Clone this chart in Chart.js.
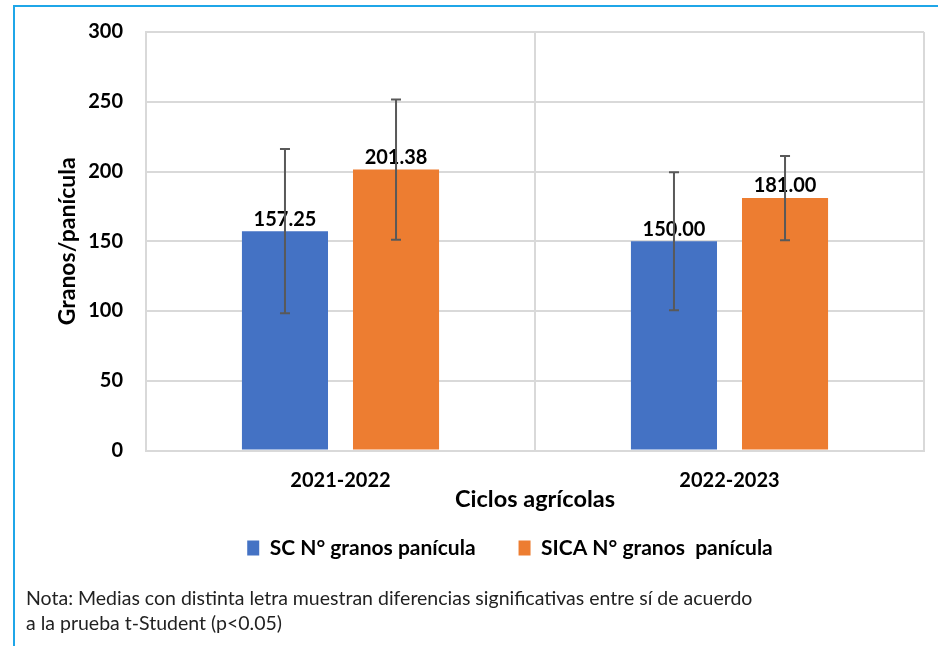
<!DOCTYPE html>
<html>
<head>
<meta charset="utf-8">
<script src="https://cdn.jsdelivr.net/npm/chart.js@4.4.0/dist/chart.umd.min.js"></script>
<style>
    html, body { margin: 0; padding: 0; background: #fff; overflow: hidden; }
    #wrap { position: relative; width: 938px; height: 646px; }
    #frame { position: absolute; left: 13px; top: 5px; right: 0; bottom: 0;
             border-left: 2px solid #1fa6e8; border-top: 2px solid #1fa6e8; }
    #box { position: absolute; left: 0; top: 0; width: 938px; height: 590px; }
    #note { position: absolute; left: 26px; top: 585px; font: 19.5px Lato; line-height: 25px; color: #222; }
</style>
</head>
<body>
<div id="wrap">
    <div id="frame"></div>
    <div id="box"><canvas id="grainsChart"></canvas></div>
    <div id="note">Nota: Medias con distinta letra muestran diferencias significativas entre sí de acuerdo<br>a la prueba t-Student (p&lt;0.05)</div>
</div>
<script>
const categories = ["2021-2022", "2022-2023"];
const scValues = [157.25, 150.00];
const sicaValues = [201.38, 181.00];
const scErrors = [58.8, 49.4];
const sicaErrors = [50.3, 30.2];
const yTicks = [0, 50, 100, 150, 200, 250, 300];

Chart.defaults.font.family = "Lato";
Chart.defaults.color = "#000";

// value labels above bars, then error bars on top
const barExtras = {
    id: "barExtras",
    afterDatasetsDraw(chart) {
        const ctx = chart.ctx;
        const y = chart.scales.y;
        ctx.save();
        ctx.font = "bold 20px Lato";
        ctx.fillStyle = "#000";
        ctx.textAlign = "center";
        ctx.textBaseline = "middle";
        chart.data.datasets.forEach((ds, i) => {
            chart.getDatasetMeta(i).data.forEach((bar, j) => {
                ctx.fillText(ds.data[j].toFixed(2), bar.x, bar.y - 12);
            });
        });
        ctx.strokeStyle = "#595959";
        ctx.lineWidth = 2;
        chart.data.datasets.forEach((ds, i) => {
            chart.getDatasetMeta(i).data.forEach((bar, j) => {
                const top = y.getPixelForValue(ds.data[j] + ds.errors[j]);
                const bottom = y.getPixelForValue(ds.data[j] - ds.errors[j]);
                ctx.beginPath();
                ctx.moveTo(bar.x, top); ctx.lineTo(bar.x, bottom);
                ctx.moveTo(bar.x - 5, top); ctx.lineTo(bar.x + 5, top);
                ctx.moveTo(bar.x - 5, bottom); ctx.lineTo(bar.x + 5, bottom);
                ctx.stroke();
            });
        });
        ctx.restore();
    }
};

// move the legend up under the axis title, centred like the original
const legendShift = {
    id: "legendShift",
    afterLayout(chart) {
        const lg = chart.legend;
        const lab = lg.options.labels;
        const dx = 510 - (lg.left + lg.right) / 2;
        const dy = 548 - (lg.top + lab.padding + lab.font.size / 2);
        lg.left += dx; lg.right += dx;
        lg.top += dy; lg.bottom += dy;
    }
};

new Chart(document.getElementById("grainsChart"), {
    type: "bar",
    data: {
        labels: categories,
        datasets: [
            { label: "SC N° granos panícula", data: scValues, errors: scErrors, backgroundColor: "#4472c4" },
            { label: "SICA N° granos  panícula", data: sicaValues, errors: sicaErrors, backgroundColor: "#ed7d31" }
        ]
    },
    options: {
        responsive: true,
        maintainAspectRatio: false,
        animation: false,
        categoryPercentage: 0.571,
        barPercentage: 0.775,
        layout: { padding: { left: 54, top: 32, right: 14, bottom: 2.5 } },
        plugins: {
            legend: {
                position: "bottom",
                labels: { boxWidth: 12, boxHeight: 15, padding: 43, color: "#000", font: { size: 21, weight: "bold" } }
            },
            tooltip: { enabled: false }
        },
        scales: {
            x: {
                afterFit: s => { s.height = 63; },
                grid: { color: "#d9d9d9", lineWidth: 2, drawTicks: false, offset: true },
                border: { color: "#d9d9d9", width: 2 },
                ticks: { color: "#000", padding: 18, font: { size: 20, weight: "bold" } },
                title: { display: true, text: "Ciclos agrícolas", color: "#000",
                         font: { size: 23.5, weight: "bold" }, padding: 0 }
            },
            y: {
                min: 0,
                max: 300,
                afterBuildTicks: s => { s.ticks = yTicks.map(v => ({ value: v })); },
                afterFit: s => { s.width = 92; s.paddingTop = 0; s.paddingBottom = 0; },
                grid: { color: "#d9d9d9", lineWidth: 2, drawTicks: false },
                border: { color: "#d9d9d9", width: 2 },
                ticks: { color: "#000", padding: 23, font: { size: 20, weight: "bold" } },
                title: { display: true, text: "Granos/panícula", color: "#000",
                         font: { size: 23, weight: "bold" }, padding: 0 }
            }
        }
    },
    plugins: [barExtras, legendShift]
});
</script>
</body>
</html>
